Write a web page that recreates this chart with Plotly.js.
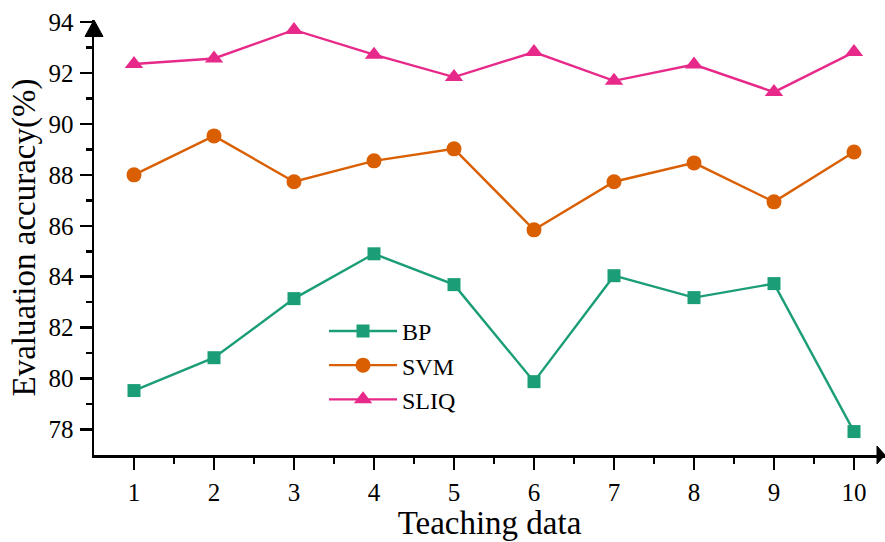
<!DOCTYPE html>
<html>
<head>
<meta charset="utf-8">
<script src="https://cdn.plot.ly/plotly-3.0.1.min.js"></script>
<style>html,body{margin:0;padding:0;background:#fff;}#chart{width:885px;height:542px;}</style>
</head>
<body>
<div id="chart"></div>
<script>
const categories = [1, 2, 3, 4, 5, 6, 7, 8, 9, 10];
const bpValues   = [79.53, 80.82, 83.14, 84.90, 83.69, 79.88, 84.04, 83.18, 83.73, 77.92];
const svmValues  = [88.00, 89.53, 87.73, 88.55, 89.02, 85.84, 87.73, 88.47, 86.94, 88.90];
const sliqValues = [92.35, 92.57, 93.69, 92.72, 91.84, 92.82, 91.69, 92.33, 91.25, 92.82];
const xTickVals = [1, 2, 3, 4, 5, 6, 7, 8, 9, 10];
const yTickVals = [78, 80, 82, 84, 86, 88, 90, 92, 94];

const FONT = '"Liberation Serif", "Times New Roman", serif';

const traces = [
  {x: categories, y: bpValues, name: 'BP', mode: 'lines+markers',
   line: {color: '#1b9e77', width: 2.4},
   marker: {symbol: 'square', size: 13, color: '#1b9e77'}},
  {x: categories, y: svmValues, name: 'SVM', mode: 'lines+markers',
   line: {color: '#d95f02', width: 2.4},
   marker: {symbol: 'circle', size: 15, color: '#d95f02'}},
  {x: categories, y: sliqValues, name: 'SLIQ', mode: 'lines+markers',
   line: {color: '#e7298a', width: 2.4},
   marker: {symbol: 'triangle-up', size: 16, color: '#e7298a'}}
];

const layout = {
  width: 885, height: 542,
  margin: {l: 94, r: 0, t: 20, b: 87},
  paper_bgcolor: '#fff', plot_bgcolor: '#fff',
  font: {family: FONT, color: '#000', size: 25},
  showlegend: true,
  legend: {x: 0.2908, y: 0.336, xanchor: 'left', yanchor: 'top',
           bgcolor: 'rgba(0,0,0,0)', font: {family: FONT, size: 24, color: '#000'},
           itemwidth: 68, tracegroupgap: 0},
  xaxis: {
    range: [0.5, 10.3875], tickvals: xTickVals, ticktext: xTickVals.map(String),
    showline: true, linecolor: '#000', linewidth: 2.5,
    ticks: 'outside', ticklen: 12, tickwidth: 2.5, tickcolor: '#000',
    minor: {tickvals: [1.5, 2.5, 3.5, 4.5, 5.5, 6.5, 7.5, 8.5, 9.5], ticks: 'outside', ticklen: 6, tickwidth: 2.5, tickcolor: '#000'},
    showgrid: false, zeroline: false,
    ticklabelstandoff: 1,
    tickfont: {family: FONT, size: 25, color: '#000'},
    title: {text: 'Teaching data', font: {family: FONT, size: 33, color: '#000'}, standoff: 0}
  },
  yaxis: {
    range: [77, 94.08], tickvals: yTickVals, ticktext: yTickVals.map(String),
    showline: true, linecolor: '#000', linewidth: 2.5,
    ticks: 'outside', ticklen: 12, tickwidth: 2.5, tickcolor: '#000',
    minor: {tickvals: [79, 81, 83, 85, 87, 89, 91, 93], ticks: 'outside', ticklen: 6, tickwidth: 2.5, tickcolor: '#000'},
    showgrid: false, zeroline: false,
    ticklabelstandoff: 1,
    tickfont: {family: FONT, size: 25, color: '#000'},
    title: {text: 'Evaluation accuracy(%)', font: {family: FONT, size: 33, color: '#000'}, standoff: 3}
  },
  shapes: [
    {type: 'path', xref: 'paper', yref: 'paper',
     path: 'M -0.0114 0.962 L 0.0114 0.962 L 0 1.0 Z',
     fillcolor: '#000', line: {color: '#000', width: 1}},
    {type: 'path', xref: 'paper', yref: 'paper',
     path: 'M 0.9899 -0.0207 L 0.9899 0.0207 L 1.0 0 Z',
     fillcolor: '#000', line: {color: '#000', width: 1}}
  ]
};

Plotly.newPlot('chart', traces, layout, {displayModeBar: false, staticPlot: true});
</script>
</body>
</html>
